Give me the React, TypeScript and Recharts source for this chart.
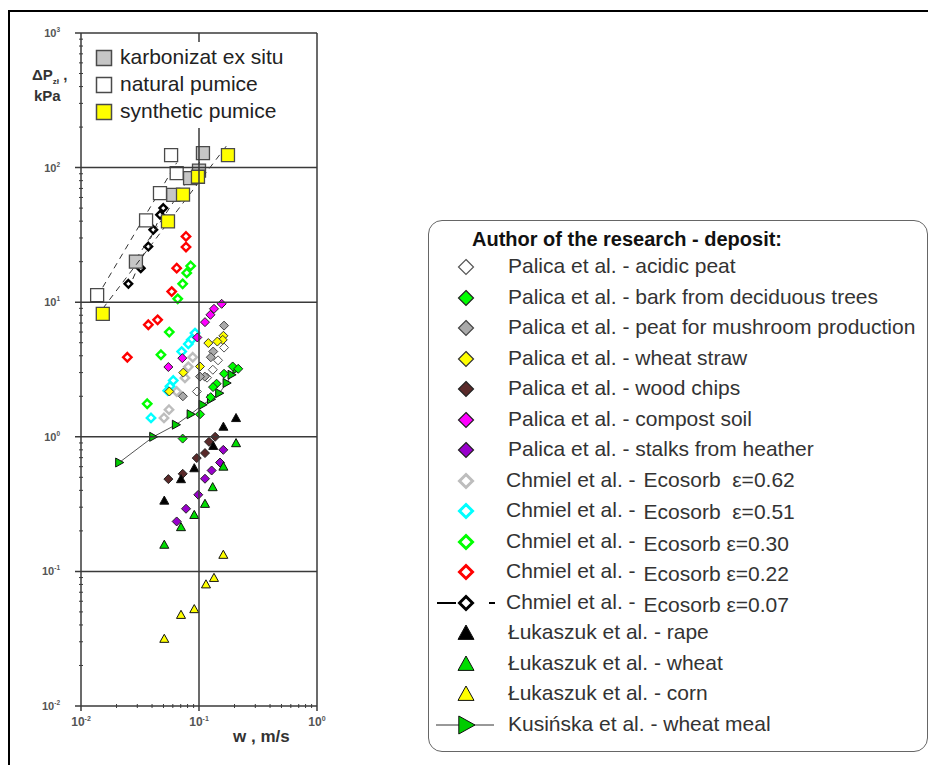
import React from 'react';
import { ScatterChart, Scatter, XAxis, YAxis, ReferenceLine } from 'recharts';

// w [m/s] vs pressure drop [kPa]
const natPumice = [
  { x: 0.0137, y: 11.3 }, { x: 0.0356, y: 40.5 }, { x: 0.0467, y: 64.6 }, { x: 0.0647, y: 91 }, { x: 0.058, y: 124 },
];
const karbonizat = [
  { x: 0.0292, y: 20 }, { x: 0.0605, y: 62.8 }, { x: 0.084, y: 83.5 }, { x: 0.1, y: 95 }, { x: 0.108, y: 128 },
];
const synPumice = [
  { x: 0.0153, y: 8.2 }, { x: 0.0546, y: 39.8 }, { x: 0.0732, y: 63 }, { x: 0.098, y: 85.5 }, { x: 0.176, y: 124 },
];

const acidicPeat = [
  { x: 0.163, y: 4.6 }, { x: 0.145, y: 3.7 }, { x: 0.131, y: 3.15 }, { x: 0.117, y: 2.75 }, { x: 0.096, y: 2.17 },
];
const bark = [
  { x: 0.193, y: 3.33 }, { x: 0.215, y: 3.2 }, { x: 0.163, y: 2.94 }, { x: 0.141, y: 2.48 },
  { x: 0.1315, y: 2.34 }, { x: 0.1256, y: 1.97 }, { x: 0.102, y: 1.47 }, { x: 0.0727, y: 0.97 },
];
const mushroomPeat = [
  { x: 0.163, y: 6.7 }, { x: 0.132, y: 4.3 }, { x: 0.126, y: 3.9 }, { x: 0.112, y: 2.8 }, { x: 0.102, y: 2.8 }, { x: 0.073, y: 2.0 },
];
const wheatStraw = [
  { x: 0.161, y: 5.63 }, { x: 0.159, y: 5.25 }, { x: 0.143, y: 5.1 }, { x: 0.12, y: 4.97 },
  { x: 0.102, y: 3.33 }, { x: 0.0736, y: 3.0 }, { x: 0.056, y: 2.17 },
];
const woodChips = [
  { x: 0.137, y: 1.0 }, { x: 0.1215, y: 0.918 }, { x: 0.1124, y: 0.757 }, { x: 0.0957, y: 0.695 }, { x: 0.0728, y: 0.531 }, { x: 0.055, y: 0.485 },
];
const compostSoil = [
  { x: 0.1556, y: 9.73 }, { x: 0.134, y: 8.93 }, { x: 0.125, y: 8.06 }, { x: 0.1124, y: 7.11 },
  { x: 0.0968, y: 5.47 }, { x: 0.0722, y: 3.84 }, { x: 0.055, y: 3.3 },
];
const heather = [
  { x: 0.1607, y: 0.8 }, { x: 0.1507, y: 0.644 }, { x: 0.128, y: 0.562 }, { x: 0.1124, y: 0.488 },
  { x: 0.0986, y: 0.371 }, { x: 0.0776, y: 0.292 }, { x: 0.0647, y: 0.235 },
];

const eco062 = [
  { x: 0.0885, y: 3.9 }, { x: 0.0812, y: 3.31 }, { x: 0.076, y: 2.74 }, { x: 0.0647, y: 2.17 }, { x: 0.0557, y: 1.59 }, { x: 0.0505, y: 1.38 },
];
const eco051 = [
  { x: 0.0925, y: 5.9 }, { x: 0.086, y: 5.25 }, { x: 0.0812, y: 4.9 }, { x: 0.0713, y: 4.3 },
  { x: 0.0605, y: 2.62 }, { x: 0.0568, y: 2.37 }, { x: 0.0543, y: 2.2 }, { x: 0.0392, y: 1.38 },
];
const eco030 = [
  { x: 0.085, y: 18.6 }, { x: 0.0787, y: 16.5 }, { x: 0.0727, y: 13.7 }, { x: 0.066, y: 10.6 },
  { x: 0.056, y: 6.0 }, { x: 0.0476, y: 4.07 }, { x: 0.0364, y: 1.76 },
];
const eco022 = [
  { x: 0.0776, y: 30.8 }, { x: 0.0776, y: 25.7 }, { x: 0.0647, y: 17.9 }, { x: 0.0587, y: 12 },
  { x: 0.0372, y: 6.8 }, { x: 0.0446, y: 7.4 }, { x: 0.0247, y: 3.9 },
];
const eco007 = [
  { x: 0.0252, y: 13.7 }, { x: 0.0321, y: 17.9 }, { x: 0.0372, y: 25.9 }, { x: 0.041, y: 34.5 }, { x: 0.0468, y: 44.6 }, { x: 0.0498, y: 50 },
];

const rape = [
  { x: 0.206, y: 1.38 }, { x: 0.161, y: 1.19 }, { x: 0.132, y: 0.857 }, { x: 0.0912, y: 0.585 }, { x: 0.0704, y: 0.485 }, { x: 0.0508, y: 0.336 },
];
const wheat = [
  { x: 0.206, y: 0.898 }, { x: 0.161, y: 0.601 }, { x: 0.1306, y: 0.423 }, { x: 0.1124, y: 0.318 },
  { x: 0.0912, y: 0.263 }, { x: 0.0704, y: 0.2135 }, { x: 0.0508, y: 0.158 },
];
const corn = [
  { x: 0.1607, y: 0.133 }, { x: 0.134, y: 0.0896 }, { x: 0.1146, y: 0.0802 }, { x: 0.0912, y: 0.0525 }, { x: 0.0704, y: 0.0476 }, { x: 0.0508, y: 0.0316 },
];
const wheatMeal = [
  { x: 0.0211, y: 0.644 }, { x: 0.041, y: 1.0 }, { x: 0.0638, y: 1.23 }, { x: 0.0851, y: 1.47 }, { x: 0.1074, y: 1.73 },
  { x: 0.1265, y: 1.9 }, { x: 0.1486, y: 2.11 }, { x: 0.1717, y: 2.51 }, { x: 0.189, y: 2.89 }, { x: 0.208, y: 3.18 },
];

const mantissas = [1, 2, 3, 4, 5, 6, 7, 8, 9];
const xDecades = [0.01, 0.1];
const yDecades = [0.01, 0.1, 1, 10, 100];
const xTicks = [...xDecades.flatMap((d) => mantissas.map((m) => +(m * d).toPrecision(3))), 1];
const yTicks = [...yDecades.flatMap((d) => mantissas.map((m) => +(m * d).toPrecision(3))), 1000];

const PLOT_W = 236;
const PLOT_H = 673;
const AXIS = '#3a3a3a';
const FONT = 'Arial, "Liberation Sans", Helvetica, sans-serif';

type Kind = 'square' | 'diamond' | 'tri' | 'rtri';
interface Mk { kind: Kind; r: number; fill: string; stroke: string; sw: number }

const glyph = (m: Mk, cx: number, cy: number) => {
  const r = m.r;
  let d = '';
  if (m.kind === 'square') d = `M${cx - r},${cy - r}h${2 * r}v${2 * r}h${-2 * r}Z`;
  if (m.kind === 'diamond') d = `M${cx},${cy - r}L${cx + r},${cy}L${cx},${cy + r}L${cx - r},${cy}Z`;
  if (m.kind === 'tri') d = `M${cx},${cy - r}L${cx + r},${cy + r * 0.8}L${cx - r},${cy + r * 0.8}Z`;
  if (m.kind === 'rtri') d = `M${cx - r * 0.8},${cy - r}L${cx + r},${cy}L${cx - r * 0.8},${cy + r}Z`;
  return <path d={d} fill={m.fill} stroke={m.stroke} strokeWidth={m.sw} strokeLinejoin="miter" />;
};

const sq = (fill: string): Mk => ({ kind: 'square', r: 6.5, fill, stroke: '#4a4a4a', sw: 1.3 });
const dia = (fill: string, stroke = '#222'): Mk => ({ kind: 'diamond', r: 4.5, fill, stroke, sw: 1 });
const hollow = (stroke: string): Mk => ({ kind: 'diamond', r: 4.2, fill: '#fff', stroke, sw: 2.4 });
const tri = (fill: string): Mk => ({ kind: 'tri', r: 4.5, fill, stroke: '#111', sw: 1 });

const mk = {
  karbonizat: sq('#c6c6c6'),
  natPumice: sq('#ffffff'),
  synPumice: sq('#ffff00'),
  acidicPeat: dia('#ffffff', '#555'),
  bark: dia('#00ff00'),
  mushroomPeat: dia('#aaaaaa', '#444'),
  wheatStraw: dia('#ffff00', '#333'),
  woodChips: dia('#5a2a2a'),
  compostSoil: dia('#ff00ff'),
  heather: dia('#9900cc'),
  eco062: hollow('#bdbdbd'),
  eco051: hollow('#00ffff'),
  eco030: hollow('#00ff00'),
  eco022: hollow('#ff0000'),
  eco007: { kind: 'diamond', r: 3.8, fill: '#fff', stroke: '#000', sw: 2.4 } as Mk,
  rape: tri('#000000'),
  wheat: tri('#00dd00'),
  corn: tri('#ffff00'),
  wheatMeal: { kind: 'rtri', r: 4.5, fill: '#00cc00', stroke: '#111', sw: 1 } as Mk,
};

const big = (m: Mk, r: number, sw = m.sw): Mk => ({ ...m, r, sw });

const legendRows: { a: string; b?: string; m: Mk; line?: 'dash' | 'solid'; bump?: number }[] = [
  { a: 'Palica et al. - acidic peat', m: big(mk.acidicPeat, 7.5, 1.2) },
  { a: 'Palica et al. - bark from deciduous trees', m: big(mk.bark, 7.5, 1.2) },
  { a: 'Palica et al. - peat for mushroom production', m: big(mk.mushroomPeat, 7.5, 1.2) },
  { a: 'Palica et al. - wheat straw', m: big(mk.wheatStraw, 7.5, 1.2) },
  { a: 'Palica et al. - wood chips', m: big(mk.woodChips, 7.5, 1.2) },
  { a: 'Palica et al. - compost soil', m: big(mk.compostSoil, 7.5, 1.2) },
  { a: 'Palica et al. - stalks from heather', m: big(mk.heather, 7.5, 1.2) },
  { a: 'Chmiel et al. -', b: 'Ecosorb  ε=0.62', m: big(mk.eco062, 6.5, 3), bump: 0 },
  { a: 'Chmiel et al. -', b: 'Ecosorb  ε=0.51', m: big(mk.eco051, 6.5, 3), bump: 2 },
  { a: 'Chmiel et al. -', b: 'Ecosorb ε=0.30', m: big(mk.eco030, 6.5, 3), bump: 3 },
  { a: 'Chmiel et al. -', b: 'Ecosorb ε=0.22', m: big(mk.eco022, 6.5, 3), bump: 3 },
  { a: 'Chmiel et al. -', b: 'Ecosorb ε=0.07', m: big(mk.eco007, 6.5, 3), line: 'dash', bump: 3 },
  { a: 'Łukaszuk et al. - rape', m: big(mk.rape, 8) },
  { a: 'Łukaszuk et al. - wheat', m: big(mk.wheat, 8) },
  { a: 'Łukaszuk et al. - corn', m: big(mk.corn, 8) },
  { a: 'Kusińska et al. - wheat meal', m: big(mk.wheatMeal, 9), line: 'solid' },
];

const innerLegend = [
  { label: 'karbonizat ex situ', m: big(mk.karbonizat, 7.5, 1.5) },
  { label: 'natural pumice', m: big(mk.natPumice, 7.5, 1.5) },
  { label: 'synthetic pumice', m: big(mk.synPumice, 7.5, 1.5) },
];

const expOf = (v: number) => {
  const lg = Math.log10(v);
  const e = Math.round(lg);
  return Math.abs(lg - e) < 1e-6 ? e : null;
};

const YTick = ({ x, y, payload }: any) => {
  const e = expOf(payload.value);
  if (e === null) return <line x1={x - 2} x2={x + 2} y1={y} y2={y} stroke={AXIS} strokeWidth={1} />;
  const inner = e > -2 && e < 3;
  return (
    <g>
      <line x1={x - 6} x2={inner ? x + PLOT_W : x} y1={y} y2={y} stroke={AXIS} strokeWidth={1.5} />
      <text x={x - 21} y={y + 4} textAnchor="end" fontSize={11} fontFamily={FONT} fill="#555" fontWeight="bold">
        10<tspan dy={-5} fontSize={6.5}>{e}</tspan>
      </text>
    </g>
  );
};

const XTick = ({ x, y, payload }: any) => {
  const e = expOf(payload.value);
  if (e === null) return <line x1={x} x2={x} y1={y - 2} y2={y + 2} stroke={AXIS} strokeWidth={1} />;
  return (
    <g>
      <line x1={x} x2={x} y1={y + 5} y2={e === -1 ? y - PLOT_H : y} stroke={AXIS} strokeWidth={1.5} />
      <text x={x} y={y + 20} textAnchor="middle" fontSize={12} fontFamily={FONT} fill="#555" fontWeight="bold">
        10<tspan dy={-5} fontSize={7}>{e}</tspan>
      </text>
    </g>
  );
};

const series: { data: { x: number; y: number }[]; m: Mk; line?: any; lineType?: 'joint' | 'fitting' }[] = [
  { data: eco062, m: mk.eco062 },
  { data: eco051, m: mk.eco051 },
  { data: eco030, m: mk.eco030 },
  { data: eco022, m: mk.eco022 },
  { data: eco007, m: mk.eco007, line: { stroke: '#222', strokeDasharray: '6 5', strokeWidth: 1 }, lineType: 'fitting' },
  { data: acidicPeat, m: mk.acidicPeat },
  { data: mushroomPeat, m: mk.mushroomPeat },
  { data: wheatStraw, m: mk.wheatStraw },
  { data: compostSoil, m: mk.compostSoil },
  { data: woodChips, m: mk.woodChips },
  { data: heather, m: mk.heather },
  { data: wheatMeal, m: mk.wheatMeal, line: { stroke: '#555', strokeWidth: 1 }, lineType: 'joint' },
  { data: bark, m: mk.bark },
  { data: rape, m: mk.rape },
  { data: wheat, m: mk.wheat },
  { data: corn, m: mk.corn },
  { data: natPumice, m: mk.natPumice, line: { stroke: '#333', strokeDasharray: '6 5', strokeWidth: 1 }, lineType: 'fitting' },
  { data: karbonizat, m: mk.karbonizat, line: { stroke: '#333', strokeDasharray: '6 5', strokeWidth: 1 }, lineType: 'fitting' },
  { data: synPumice, m: mk.synPumice, line: { stroke: '#333', strokeDasharray: '6 5', strokeWidth: 1 }, lineType: 'fitting' },
];

const Icon = ({ m, w, h, line }: { m: Mk; w: number; h: number; line?: 'dash' | 'solid' }) => (
  <svg width={w} height={h} style={{ position: 'absolute', left: -w / 2, top: -h / 2, overflow: 'visible' }}>
    {line === 'dash' && (
      <g stroke="#000" strokeWidth={2}>
        <line x1={w / 2 - 29} x2={w / 2 - 10} y1={h / 2} y2={h / 2} />
        <line x1={w / 2 + 23} x2={w / 2 + 29} y1={h / 2} y2={h / 2} />
      </g>
    )}
    {line === 'solid' && <line x1={w / 2 - 30} x2={w / 2 + 28} y1={h / 2} y2={h / 2} stroke="#333" strokeWidth={1} />}
    {glyph(m, w / 2, h / 2)}
  </svg>
);

export default function App() {
  return (
    <div style={{ position: 'relative', width: 928, height: 757, fontFamily: FONT, overflow: 'hidden' }}>
      <div style={{ position: 'absolute', left: 0, top: 2, width: 940, height: 800, borderLeft: '2px solid #000', borderTop: '2px solid #000' }} />

      <div style={{ position: 'absolute', left: 0, top: 0 }}>
        <ScatterChart width={330} height={760} margin={{ top: 25, right: 21, bottom: 32, left: 13 }}>
          <XAxis
            dataKey="x"
            type="number"
            scale="log"
            domain={[0.01, 1]}
            allowDataOverflow
            ticks={xTicks}
            interval={0}
            tickSize={0}
            tickMargin={0}
            tick={<XTick />}
            axisLine={{ stroke: AXIS, strokeWidth: 1.5 }}
            height={30}
          />
          <YAxis
            dataKey="y"
            type="number"
            scale="log"
            domain={[0.01, 1000]}
            allowDataOverflow
            ticks={yTicks}
            interval={0}
            tickSize={0}
            tickMargin={0}
            tick={<YTick />}
            axisLine={{ stroke: AXIS, strokeWidth: 1.5 }}
            width={60}
          />
          <ReferenceLine x={1} stroke={AXIS} strokeWidth={1.5} />
          <ReferenceLine y={1000} stroke={AXIS} strokeWidth={1.5} />
          {series.map((s, i) => (
            <Scatter
              key={i}
              data={s.data}
              isAnimationActive={false}
              line={s.line}
              lineType={s.lineType}
              shape={(p: any) => glyph(s.m, p.cx, p.cy)}
            />
          ))}
        </ScatterChart>
      </div>

      {/* legend inside the plot */}
      <div style={{ position: 'absolute', left: 80, top: 34, width: 204, height: 86, background: '#fff' }}>
        {innerLegend.map((it, i) => (
          <div key={i} style={{ position: 'absolute', left: 0, top: 16 + i * 27, height: 0 }}>
            <div style={{ position: 'absolute', left: 15.5, top: 0 }}>
              <Icon m={it.m} w={18} h={18} />
            </div>
            <div style={{ position: 'absolute', left: 32, top: -13, fontSize: 21, lineHeight: '24px', color: '#222', whiteSpace: 'nowrap' }}>
              {it.label}
            </div>
          </div>
        ))}
      </div>

      {/* axis titles */}
      <div style={{ position: 'absolute', left: 24, top: 58, fontSize: 15, fontWeight: 'bold', color: '#333', whiteSpace: 'nowrap' }}>
        ΔP<sub style={{ fontSize: 8 }}>zł</sub> ,
      </div>
      <div style={{ position: 'absolute', left: 26, top: 79, fontSize: 15, fontWeight: 'bold', color: '#333' }}>kPa</div>
      <div style={{ position: 'absolute', left: 225, top: 719, fontSize: 17, fontWeight: 'bold', color: '#333', whiteSpace: 'pre' }}>
        w , m/s
      </div>

      {/* main legend */}
      <div
        style={{
          position: 'absolute', left: 420, top: 212, width: 500, height: 532,
          border: '1.5px solid #666', borderRadius: 14, boxSizing: 'border-box', background: '#fff',
        }}
      />
      <div style={{ position: 'absolute', left: 464, top: 220, fontSize: 20, fontWeight: 'bold', color: '#111', whiteSpace: 'nowrap' }}>
        Author of the research - deposit:
      </div>
      {legendRows.map((r, i) => {
        const cy = 259 + i * 30.5;
        return (
          <div key={i} style={{ position: 'absolute', left: 0, top: cy, height: 0 }}>
            <div style={{ position: 'absolute', left: 458, top: 0 }}>
              <Icon m={r.m} w={20} h={20} line={r.line} />
            </div>
            <div style={{ position: 'absolute', left: r.b ? 498 : 500, top: -13, fontSize: 21, lineHeight: '24px', color: '#333', whiteSpace: 'pre' }}>
              {r.a}
              {r.b && <span style={{ position: 'relative', top: r.bump, marginLeft: 8 }}>{r.b}</span>}
            </div>
          </div>
        );
      })}
    </div>
  );
}
